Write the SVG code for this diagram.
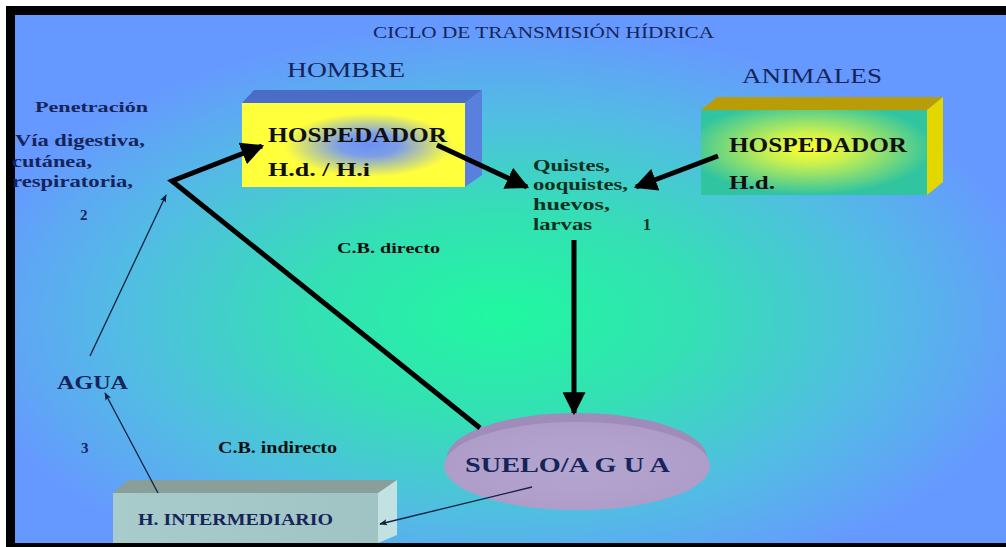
<svg xmlns="http://www.w3.org/2000/svg" width="1006" height="547" viewBox="0 0 1006 547">
<defs>
<radialGradient id="bg" cx="0.49" cy="0.57" r="0.55">
<stop offset="0" stop-color="#20F8A0"/>
<stop offset="0.35" stop-color="#34E0B4"/>
<stop offset="0.7" stop-color="#52BCE4"/>
<stop offset="1" stop-color="#6699FF"/>
</radialGradient>
<radialGradient id="hombreFront" cx="0.57" cy="0.5" r="0.38">
<stop offset="0" stop-color="#6A90F2"/>
<stop offset="0.35" stop-color="#7C9EE8"/>
<stop offset="1" stop-color="#FFFF3C"/>
</radialGradient>
<radialGradient id="animFront" cx="0.48" cy="0.45" r="0.55">
<stop offset="0" stop-color="#FFFF30"/>
<stop offset="0.35" stop-color="#C8F050"/>
<stop offset="1" stop-color="#30C4A0"/>
</radialGradient>
<linearGradient id="interFront" x1="0" y1="0" x2="1" y2="0">
<stop offset="0" stop-color="#A8CCCC"/>
<stop offset="1" stop-color="#A0C4C4"/>
</linearGradient>
<radialGradient id="disc" cx="0.5" cy="0.5" r="0.55">
<stop offset="0" stop-color="#B4A6D0"/>
<stop offset="1" stop-color="#AE9CC8"/>
</radialGradient>
<marker id="big" viewBox="0 0 10 10" refX="9" refY="5" markerWidth="4.6" markerHeight="4.6" orient="auto" markerUnits="strokeWidth">
<path d="M0,0 L10,5 L0,10 Z" fill="#000"/>
</marker>
<marker id="small" viewBox="0 0 10 10" refX="9" refY="5" markerWidth="7" markerHeight="6" orient="auto" markerUnits="strokeWidth">
<path d="M0,1 L10,5 L0,9 L2,5 Z" fill="#102040"/>
</marker>
</defs>
<style>
.t{font-family:"Liberation Serif","Times New Roman",serif;}
.b{font-weight:bold;}
.navy{fill:#16245A;}
.blk{fill:#101010;}
.grn{fill:#0E3020;}
.thick{stroke:#000;stroke-width:5;fill:none;stroke-linejoin:miter;}
.thin{stroke:#102040;stroke-width:1.3;fill:none;}
</style>
<rect x="0" y="0" width="1006" height="547" fill="#FFFFFF"/>
<rect x="6" y="6" width="1000" height="541" fill="#000000"/>
<rect x="15" y="15" width="991" height="528" fill="url(#bg)"/>

<text class="t navy" x="373" y="38" font-size="17" textLength="341" lengthAdjust="spacingAndGlyphs">CICLO DE  TRANSMISIÓN HÍDRICA</text>

<g id="hombre">
<text class="t navy" x="287" y="77" font-size="21" textLength="118" lengthAdjust="spacingAndGlyphs">HOMBRE</text>
<polygon points="242,103 254,90 482,90 465,103" fill="#4A6CC6"/>
<polygon points="465,103 482,90 482,175 465,187" fill="#5A80DE"/>
<rect x="242" y="103" width="223" height="84" fill="url(#hombreFront)"/>
<text class="t b blk" x="268" y="142" font-size="20" textLength="179" lengthAdjust="spacingAndGlyphs">HOSPEDADOR</text>
<text class="t b blk" x="268" y="176" font-size="19" textLength="102" lengthAdjust="spacingAndGlyphs">H.d. / H.i</text>
</g>

<g id="animales">
<text class="t navy" x="742" y="83" font-size="22" textLength="140" lengthAdjust="spacingAndGlyphs">ANIMALES</text>
<polygon points="701,110 717,97 943,97 927,110" fill="#B89C08"/>
<polygon points="927,110 943,97 943,182 927,195" fill="#E2D800"/>
<rect x="701" y="110" width="226" height="85" fill="url(#animFront)"/>
<text class="t b blk" x="729" y="152" font-size="20" textLength="178" lengthAdjust="spacingAndGlyphs">HOSPEDADOR</text>
<text class="t b blk" x="729" y="189" font-size="19" textLength="46" lengthAdjust="spacingAndGlyphs">H.d.</text>
</g>

<g id="quistes">
<text class="t b grn" x="533" y="171" font-size="16" textLength="77" lengthAdjust="spacingAndGlyphs">Quistes,</text>
<text class="t b grn" x="533" y="190" font-size="16" textLength="95" lengthAdjust="spacingAndGlyphs">ooquistes,</text>
<text class="t b grn" x="533" y="210" font-size="16" textLength="77" lengthAdjust="spacingAndGlyphs">huevos,</text>
<text class="t b grn" x="533" y="230" font-size="16" textLength="59" lengthAdjust="spacingAndGlyphs">larvas</text>
<text class="t b grn" x="643" y="230" font-size="16">1</text>
</g>

<g id="penetracion">
<text class="t b navy" x="35" y="112" font-size="15" textLength="113" lengthAdjust="spacingAndGlyphs">Penetración</text>
<text class="t b navy" x="15" y="146" font-size="16" textLength="130" lengthAdjust="spacingAndGlyphs">Vía digestiva,</text>
<text class="t b navy" x="12" y="167" font-size="16" textLength="80" lengthAdjust="spacingAndGlyphs">cutánea,</text>
<text class="t b navy" x="12" y="187" font-size="16" textLength="121" lengthAdjust="spacingAndGlyphs">respiratoria,</text>
<text class="t b navy" x="80" y="220" font-size="15">2</text>
</g>

<g id="agua">
<text class="t b navy" x="57" y="389" font-size="19" textLength="71" lengthAdjust="spacingAndGlyphs">AGUA</text>
<text class="t b navy" x="81" y="453" font-size="15">3</text>
</g>

<g id="labels">
<text class="t b blk" x="337" y="253" font-size="15" textLength="103" lengthAdjust="spacingAndGlyphs">C.B. directo</text>
<text class="t b blk" x="218" y="453" font-size="16" textLength="119" lengthAdjust="spacingAndGlyphs">C.B. indirecto</text>
</g>

<g id="intermediario">
<polygon points="113,493 128,480 397,480 378,493" fill="#8A9E9A"/>
<polygon points="378,493 397,480 397,535 378,543" fill="#C2E2E2"/>
<rect x="113" y="493" width="265" height="50" fill="url(#interFront)"/>
<text class="t b navy" x="138" y="525" font-size="17" textLength="195" lengthAdjust="spacingAndGlyphs">H. INTERMEDIARIO</text>
</g>

<g id="suelo">
<ellipse cx="577" cy="458" rx="130" ry="45" fill="#A08CBA"/>
<ellipse cx="577" cy="466" rx="133" ry="44" fill="url(#disc)"/>
<text class="t b navy" x="465" y="472" font-size="21" textLength="205" lengthAdjust="spacingAndGlyphs">SUELO/A G U A</text>
</g>

<g id="connectors">
<path class="thick" d="M480,428 L172,181 L262,146" marker-end="url(#big)"/>
<path class="thick" d="M437,145 L527,187" marker-end="url(#big)"/>
<path class="thick" d="M718,156 L636,187" marker-end="url(#big)"/>
<path class="thick" d="M574,240 L574,413" marker-end="url(#big)"/>
<path class="thin" d="M90,356 L166,195" marker-end="url(#small)"/>
<path class="thin" d="M158,493 L105,393" marker-end="url(#small)"/>
<path class="thin" d="M532,487 L380,524" marker-end="url(#small)"/>
</g>
</svg>
